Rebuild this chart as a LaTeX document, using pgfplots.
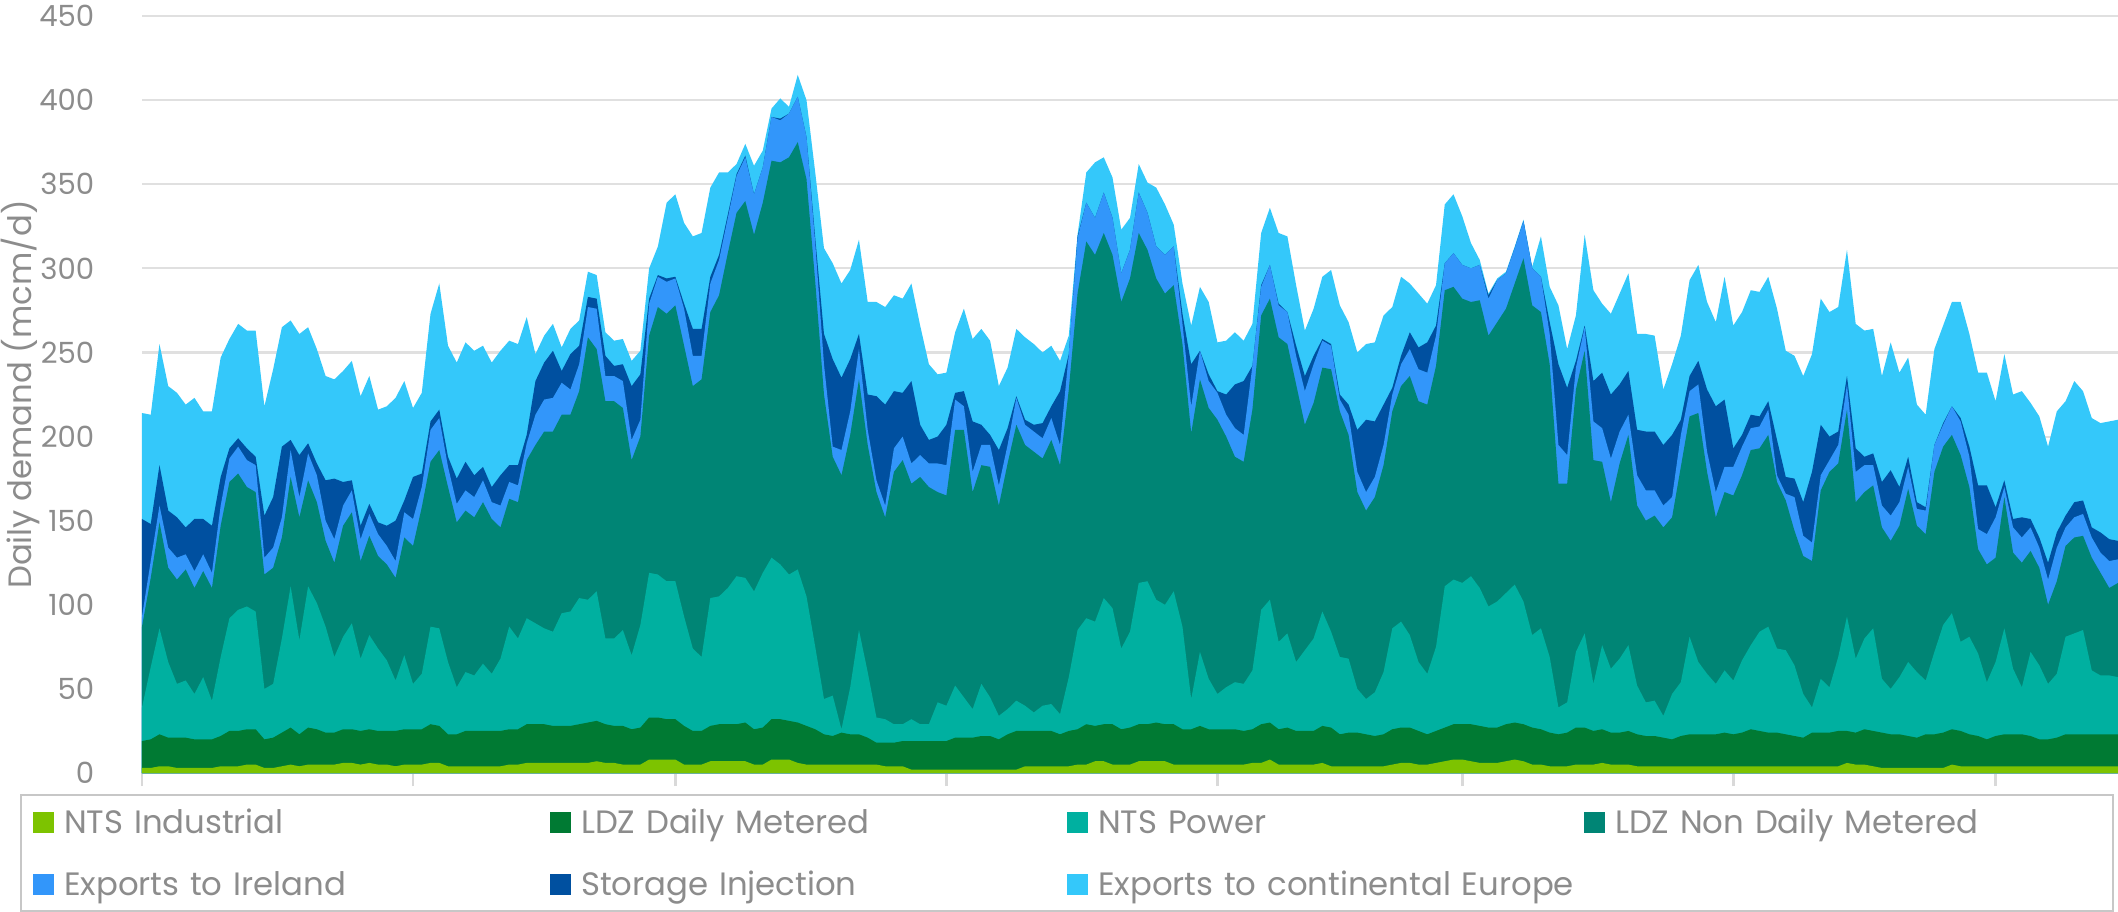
\documentclass[border=0pt]{standalone}
\usepackage{pgfplots}
\pgfplotsset{compat=1.18}
\usepackage{pgfplotstable}
\usepackage{fontspec}
\setmainfont{Poppins}
\definecolor{cInd}{RGB}{125,195,0}
\definecolor{cDM}{RGB}{0,122,51}
\definecolor{cPow}{RGB}{0,176,160}
\definecolor{cNDM}{RGB}{0,133,117}
\definecolor{cIre}{RGB}{50,150,250}
\definecolor{cSto}{RGB}{0,80,160}
\definecolor{cCont}{RGB}{52,200,250}
\definecolor{tgray}{RGB}{140,140,140}
% cumulative stack boundaries (mcm/d): b1 = NTS Industrial, b2 = +LDZ DM, b3 = +NTS Power,
% b4 = +LDZ NDM, b5 = +Exports Ireland, b6 = +Storage Injection, b7 = +Exports continental Europe
\pgfplotstableread{
d b1 b2 b3 b4 b5 b6 b7
0 3 19 39 87 93 151 214
1 3 20 63 116 126 148 213
2 4 23 86 149 159 183 255
3 4 21 66 122 134 156 230
4 3 21 53 115 128 152 226
5 3 21 55 121 130 146 219
6 3 20 47 110 120 151 223
7 3 20 57 120 130 151 215
8 3 20 43 110 119 147 215
9 4 22 69 147 159 176 247
10 4 25 92 173 187 193 258
11 4 25 97 178 194 199 267
12 5 26 99 170 186 193 263
13 5 26 96 167 183 188 263
14 3 20 50 118 128 153 218
15 3 21 53 122 134 164 240
16 4 24 80 140 152 194 265
17 5 27 111 176 192 198 269
18 4 23 79 152 164 189 261
19 5 27 111 174 190 196 265
20 5 26 101 161 177 184 252
21 5 24 87 138 150 174 236
22 5 24 69 125 139 175 234
23 6 26 81 147 159 173 239
24 6 26 89 155 168 174 245
25 5 25 68 126 139 147 224
26 6 26 82 141 154 160 236
27 5 25 74 129 142 149 216
28 5 25 67 124 135 147 218
29 4 25 55 116 126 150 223
30 5 26 70 140 155 162 233
31 5 26 53 135 151 176 217
32 5 26 59 158 170 178 226
33 6 29 87 185 204 209 273
34 6 28 86 192 211 216 291
35 4 23 66 170 182 188 254
36 4 23 51 149 160 175 244
37 4 25 60 156 168 185 256
38 4 25 58 152 164 177 251
39 4 25 65 161 174 182 254
40 4 25 59 151 161 170 244
41 4 25 68 146 159 177 251
42 5 26 87 163 173 183 257
43 5 26 80 161 171 183 255
44 6 29 92 186 196 201 271
45 6 29 89 195 213 233 249
46 6 29 86 203 222 244 260
47 6 28 84 203 223 251 267
48 6 28 95 213 232 239 253
49 6 28 96 213 228 249 264
50 6 29 104 227 243 254 269
51 6 30 103 259 277 283 298
52 7 31 108 252 276 282 296
53 6 29 80 221 236 248 262
54 6 28 80 221 236 242 257
55 5 28 85 217 233 243 258
56 5 26 70 186 198 230 245
57 5 27 88 200 210 237 251
58 8 33 119 260 279 282 300
59 8 33 118 277 295 296 313
60 8 32 114 273 292 294 339
61 8 32 114 278 294 295 344
62 5 28 93 254 276 279 327
63 5 25 74 230 248 264 319
64 5 25 69 234 248 264 321
65 7 28 104 274 291 295 348
66 7 29 105 284 305 308 357
67 7 29 110 309 330 332 357
68 7 29 117 333 355 356 362
69 7 30 116 340 366 367 374
70 5 26 108 320 344 344 361
71 5 27 119 339 360 360 370
72 8 32 128 364 390 390 395
73 8 32 124 363 388 389 401
74 8 31 118 366 392 392 396
75 6 30 121 375 402 402 415
76 5 28 105 353 378 378 400
77 5 26 75 292 315 318 357
78 5 23 44 225 243 261 312
79 5 22 46 188 194 246 303
80 5 24 26 177 192 235 291
81 5 23 51 201 215 246 299
82 5 23 85 234 252 261 317
83 5 21 60 195 204 225 280
84 5 18 33 167 174 224 280
85 4 18 32 152 159 219 277
86 4 18 29 179 193 227 284
87 4 19 29 186 200 226 282
88 2 19 32 172 184 233 291
89 2 19 29 176 189 207 266
90 2 19 29 170 184 198 243
91 2 19 42 167 184 200 237
92 2 19 40 165 183 207 238
93 2 21 52 204 222 226 262
94 2 21 45 204 218 227 276
95 2 21 38 167 179 209 258
96 2 22 53 183 195 207 264
97 2 22 45 182 195 201 257
98 2 20 34 159 171 192 230
99 2 23 38 184 195 205 241
100 2 25 43 207 223 224 264
101 4 25 40 195 207 210 259
102 4 25 36 191 203 207 255
103 4 25 40 187 199 208 250
104 4 25 41 198 211 218 254
105 4 23 35 183 195 227 245
106 4 25 57 228 249 249 260
107 5 26 85 285 318 319 320
108 5 29 92 316 339 339 357
109 7 28 90 308 330 330 363
110 7 29 104 321 345 345 366
111 5 29 98 308 330 330 354
112 5 26 74 280 297 297 323
113 5 27 84 294 311 311 330
114 7 29 113 321 345 345 362
115 7 29 114 311 333 333 351
116 7 30 103 294 313 313 348
117 7 29 100 285 308 308 338
118 5 29 108 290 313 313 326
119 5 26 87 255 267 273 291
120 5 26 44 202 218 243 266
121 5 28 72 234 251 251 289
122 5 26 56 217 233 237 280
123 5 26 47 210 226 227 256
124 5 26 51 200 213 225 257
125 5 26 54 188 205 231 262
126 5 25 53 185 201 233 257
127 6 26 61 216 242 242 267
128 6 29 97 272 289 290 321
129 8 30 103 282 302 302 336
130 5 26 78 259 278 279 321
131 5 27 83 255 274 274 319
132 5 25 66 231 248 254 290
133 5 25 73 207 227 236 263
134 5 25 80 220 243 248 276
135 6 28 96 241 257 258 295
136 4 27 84 240 254 255 299
137 4 23 69 215 222 225 278
138 4 24 68 201 213 219 268
139 4 24 50 167 179 204 250
140 4 23 44 156 167 210 255
141 4 22 48 164 176 209 256
142 4 23 60 183 195 219 272
143 5 26 86 215 225 229 277
144 6 27 90 230 243 248 295
145 6 27 82 236 252 262 291
146 5 25 66 221 240 253 285
147 5 23 59 219 238 256 279
148 6 25 75 242 260 266 290
149 7 27 111 287 303 303 338
150 8 29 115 289 309 309 344
151 8 29 113 282 302 302 331
152 7 29 117 280 300 300 315
153 6 28 110 281 302 302 305
154 6 27 99 260 282 284 285
155 6 27 102 268 293 293 294
156 7 29 107 276 297 297 298
157 8 30 112 291 312 312 313
158 7 29 102 306 328 328 329
159 5 27 82 278 300 300 301
160 5 26 86 274 295 295 319
161 4 24 69 243 261 268 289
162 4 23 39 172 195 243 278
163 4 24 42 172 189 229 252
164 5 27 72 228 241 245 272
165 5 27 83 251 265 266 320
166 5 25 53 186 209 233 287
167 6 26 76 185 205 238 279
168 5 24 62 161 187 225 273
169 5 24 68 184 203 231 285
170 5 25 76 201 213 239 297
171 4 23 52 159 177 204 261
172 4 22 42 150 168 203 261
173 4 22 43 153 168 203 260
174 4 21 34 146 159 195 228
175 4 20 47 152 164 201 243
176 4 22 54 182 201 210 260
177 4 23 81 212 227 236 293
178 4 23 66 214 231 245 302
179 4 23 59 179 191 228 280
180 4 23 53 152 167 218 268
181 4 24 61 167 182 222 295
182 4 23 55 165 182 193 266
183 4 24 67 177 194 201 274
184 4 26 76 192 205 213 287
185 4 25 84 193 206 212 286
186 4 24 87 201 216 221 295
187 4 24 74 173 177 198 276
188 4 23 73 162 166 176 251
189 4 22 64 144 164 175 248
190 4 21 47 129 141 161 236
191 4 24 39 126 137 179 249
192 4 24 56 168 177 207 282
193 4 24 51 179 186 200 274
194 4 25 69 184 195 203 277
195 6 25 93 216 231 236 311
196 5 24 68 161 179 193 267
197 5 26 80 167 183 188 263
198 4 25 86 171 183 190 264
199 3 24 56 146 159 173 236
200 3 23 50 138 153 180 256
201 3 23 57 147 161 170 238
202 3 22 66 169 182 188 247
203 3 21 60 147 157 161 219
204 3 23 55 142 156 158 213
205 3 23 72 179 195 195 252
206 3 24 88 194 207 208 266
207 5 26 95 201 218 218 280
208 4 25 78 189 209 211 280
209 4 23 81 170 188 194 261
210 4 22 71 133 145 171 238
211 4 20 54 124 142 171 238
212 4 22 66 128 152 158 221
213 4 23 86 164 170 174 249
214 4 23 62 131 146 151 225
215 4 23 51 125 140 152 227
216 4 22 72 132 146 151 220
217 4 20 64 122 134 140 212
218 4 20 53 100 115 125 194
219 4 21 59 114 134 143 215
220 4 23 81 135 146 153 221
221 4 23 83 140 152 161 233
222 4 23 85 141 154 162 227
223 4 23 61 128 140 146 211
224 4 23 58 119 131 143 208
225 4 23 58 110 126 139 209
226 4 23 57 113 127 138 210
}\data
\begin{document}
\begin{tikzpicture}
\useasboundingbox (-1.42cm,-1.38cm) rectangle (19.76cm,7.73cm);
\begin{axis}[
  at={(0,0)}, anchor=south west, scale only axis,
  width=19.76cm, height=7.57cm,
  xmin=0, xmax=226, ymin=0, ymax=450,
  axis lines=left, separate axis lines,
  x axis line style={-, draw=black!15, line width=0.6pt},
  y axis line style={draw=none},
  ytick={0,50,...,450},
  xtick={0,31,61,92,123,151,182,212},
  xticklabels={},
  tick align=outside,
  major tick length=0.13cm,
  xtick style={draw=black!15, line width=0.8pt},
  ytick style={draw=none},
  ymajorgrids, grid style={draw=black!12, line width=0.6pt},
  /pgf/number format/assume math mode=true,
  yticklabel style={font=\fontsize{8.3}{10}\selectfont, text=tgray, anchor=east, inner sep=0pt, xshift=-0.34cm},
  ylabel={Daily demand (mcm/d)},
  ylabel style={at={(axis description cs:-0.0617,0.5)}, anchor=center, font=\fontsize{9.2}{11}\selectfont, text=tgray},
  legend columns=4, reverse legend,
  legend image code/.code={\fill[#1] (0cm,-0.105cm) rectangle (0.21cm,0.105cm);},
  legend style={at={(axis description cs:-0.0617,-0.0277)}, anchor=north west,
    draw=black!22, line width=0.6pt, inner xsep=0.12cm, inner ysep=0.16cm,
    row sep=0.4cm, font=\fontsize{9.2}{11}\selectfont, text=tgray,
    nodes={inner sep=0pt, text width=4.86cm, text height=0.22cm, text depth=0pt, align=left},
    /tikz/every odd column/.append style={column sep=0.1cm}},
]
\addplot[fill=cCont, draw=none] table[x=d, y=b7] {\data} \closedcycle;
\addlegendentry{Exports to continental Europe}
\addplot[fill=cSto, draw=none] table[x=d, y=b6] {\data} \closedcycle;
\addlegendentry{Storage Injection}
\addplot[fill=cIre, draw=none] table[x=d, y=b5] {\data} \closedcycle;
\addlegendentry{Exports to Ireland}
\addplot[fill=cNDM, draw=none] table[x=d, y=b4] {\data} \closedcycle;
\addlegendentry{LDZ Non Daily Metered}
\addplot[fill=cPow, draw=none] table[x=d, y=b3] {\data} \closedcycle;
\addlegendentry{NTS Power}
\addplot[fill=cDM, draw=none] table[x=d, y=b2] {\data} \closedcycle;
\addlegendentry{LDZ Daily Metered}
\addplot[fill=cInd, draw=none] table[x=d, y=b1] {\data} \closedcycle;
\addlegendentry{NTS Industrial}
\end{axis}
\end{tikzpicture}
\end{document}
